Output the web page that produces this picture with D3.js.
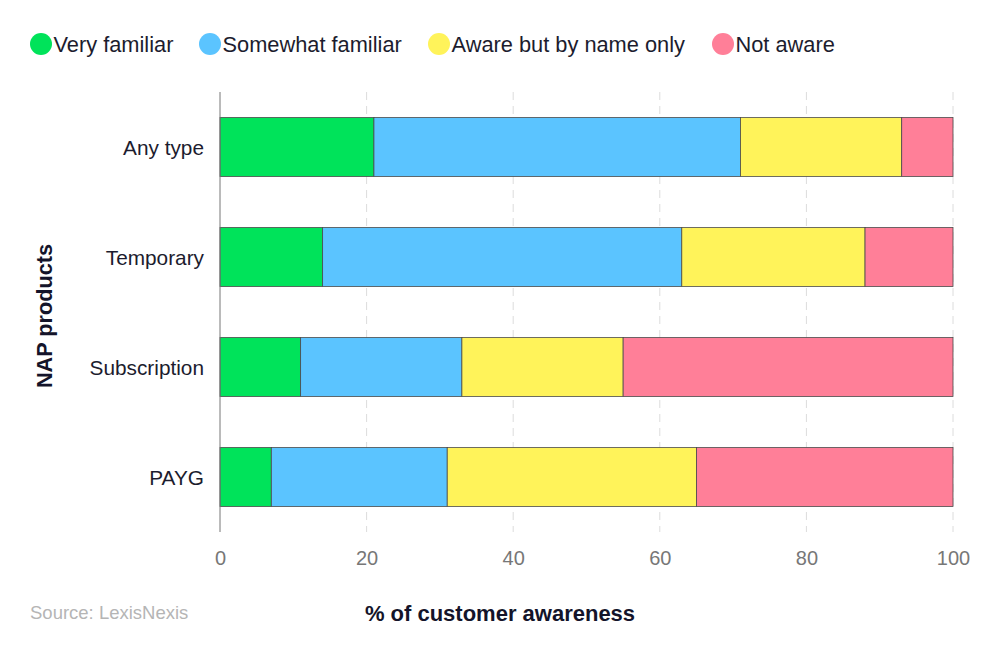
<!DOCTYPE html>
<html><head><meta charset="utf-8">
<script src="https://cdn.jsdelivr.net/npm/d3@7"></script>
<style>body{margin:0;background:#fff;} svg{display:block;font-family:"Liberation Sans",Arial,sans-serif;}</style>
</head><body>
<svg id="c" width="1000" height="650"></svg>
<script>
const categories = ["Any type","Temporary","Subscription","PAYG"];
const seriesNames = ["Very familiar","Somewhat familiar","Aware but by name only","Not aware"];
const veryFamiliar = [21,14,11,7];
const somewhatFamiliar = [50,49,22,24];
const nameOnly = [22,25,22,34];
const notAware = [7,12,45,35];
const colors = ["#00e35a","#5bc4ff","#fff35a","#ff7f98"];
const xTicks = [0,20,40,60,80,100];

(function(){
const svg = d3.select("#c");
const pL=220,pR=953,pT=92,pB=532;
const x = d3.scaleLinear().domain([0,100]).range([pL,pR]);
const y = d3.scaleBand().domain(categories).range([pT,pB]).paddingInner(0.4636).paddingOuter(0.2318);

const rows = categories.map((c,i)=>({cat:c,"Very familiar":veryFamiliar[i],"Somewhat familiar":somewhatFamiliar[i],"Aware but by name only":nameOnly[i],"Not aware":notAware[i]}));
const stacked = d3.stack().keys(seriesNames)(rows);

svg.append("g").selectAll("line").data(xTicks.filter(d=>d>0)).join("line")
  .attr("x1",d=>x(d)).attr("x2",d=>x(d)).attr("y1",pT).attr("y2",pB)
  .attr("stroke","#dcdcdc").attr("stroke-dasharray","8,6").attr("stroke-width",1);

svg.append("g").selectAll("g").data(stacked).join("g")
  .attr("fill",(d,i)=>colors[i])
  .selectAll("rect").data(d=>d).join("rect")
  .attr("x",d=>x(d[0])).attr("width",d=>x(d[1])-x(d[0]))
  .attr("y",d=>y(d.data.cat)).attr("height",y.bandwidth())
  .attr("stroke","#4a4a4a").attr("stroke-width",0.8);

svg.append("line").attr("x1",pL).attr("x2",pL).attr("y1",pT).attr("y2",pB).attr("stroke","#777").attr("stroke-width",1);

const xa = svg.append("g").attr("transform",`translate(0,${pB})`).call(d3.axisBottom(x).tickValues(xTicks).tickSize(0).tickPadding(19));
xa.select(".domain").remove();
xa.selectAll("text").attr("fill","#777").attr("font-size",20).attr("font-family","Liberation Sans, Arial, sans-serif");

const ya = svg.append("g").attr("transform",`translate(${pL},0)`).call(d3.axisLeft(y).tickSize(0).tickPadding(16));
ya.select(".domain").remove();
ya.selectAll("text").attr("fill","#1c1c2e").attr("font-size",20.8).attr("dy","0.36em").attr("font-family","Liberation Sans, Arial, sans-serif");

svg.append("text").attr("x",500).attr("y",621).attr("text-anchor","middle").attr("font-size",22).attr("font-weight","bold").attr("fill","#14142a").text("% of customer awareness");
svg.append("text").attr("transform","translate(52,316) rotate(-90)").attr("text-anchor","middle").attr("font-size",21.7).attr("font-weight","bold").attr("fill","#14142a").text("NAP products");
svg.append("text").attr("x",30).attr("y",619).attr("font-size",18.5).attr("fill","#b5b5b5").text("Source: LexisNexis");

const legX=[41,210,439,723];
const lg = svg.append("g").selectAll("g").data(seriesNames).join("g").attr("transform",(d,i)=>`translate(${legX[i]},44)`);
lg.append("circle").attr("r",11).attr("fill",(d,i)=>colors[i]);
lg.append("text").attr("x",12.5).attr("y",8).attr("font-size",21.8).attr("fill","#1c1c2e").text(d=>d);
})();
</script>
</body></html>
